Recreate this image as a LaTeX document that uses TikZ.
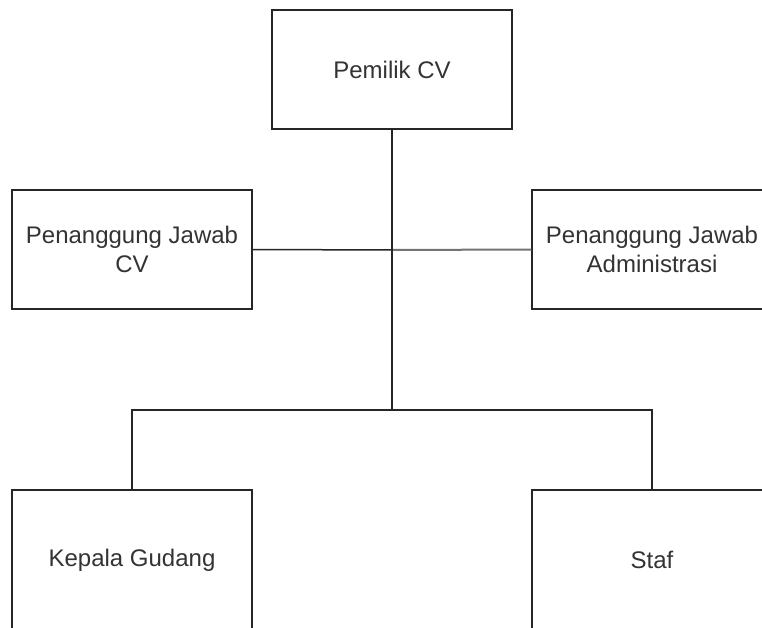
\documentclass[tikz,border=0pt]{standalone}
\usepackage{fontspec}
\setmainfont{Liberation Sans}
\begin{document}
\begin{tikzpicture}[x=1pt,y=-1pt,
  box/.style={draw=black!85, line width=1.5pt, minimum width=240pt, minimum height=119pt,
    align=center, text=black!80, font=\fontsize{24}{29}\selectfont, inner sep=0pt},
  conn/.style={draw=black!85, line width=1.5pt}]
\useasboundingbox (0,0) rectangle (762,628);
\clip (0,0) rectangle (762,628);
\fill[white] (0,0) rectangle (762,628);
\node[box] (own) at (392,69.5) {Pemilik CV};
\node[box] (pjcv) at (132,249.5) {Penanggung Jawab\\CV};
\node[box] (pjadm) at (652,249.5) {Penanggung Jawab\\Administrasi};
\node[box, minimum height=140pt] (kg) at (132,560) {Kepala Gudang};
\node[box, minimum height=140pt] (staf) at (652,560) {Staf};
\coordinate (mid) at (392,250);
\coordinate (split) at (392,410);
\draw[conn] (pjcv.east) -- (mid);
\draw[conn, draw=black!55, line width=2pt] (pjadm.west) -- (mid);
\draw[conn] (own.south) -- (split);
\draw[conn] (kg.north) |- (split) -| (staf.north);
\end{tikzpicture}
\end{document}
